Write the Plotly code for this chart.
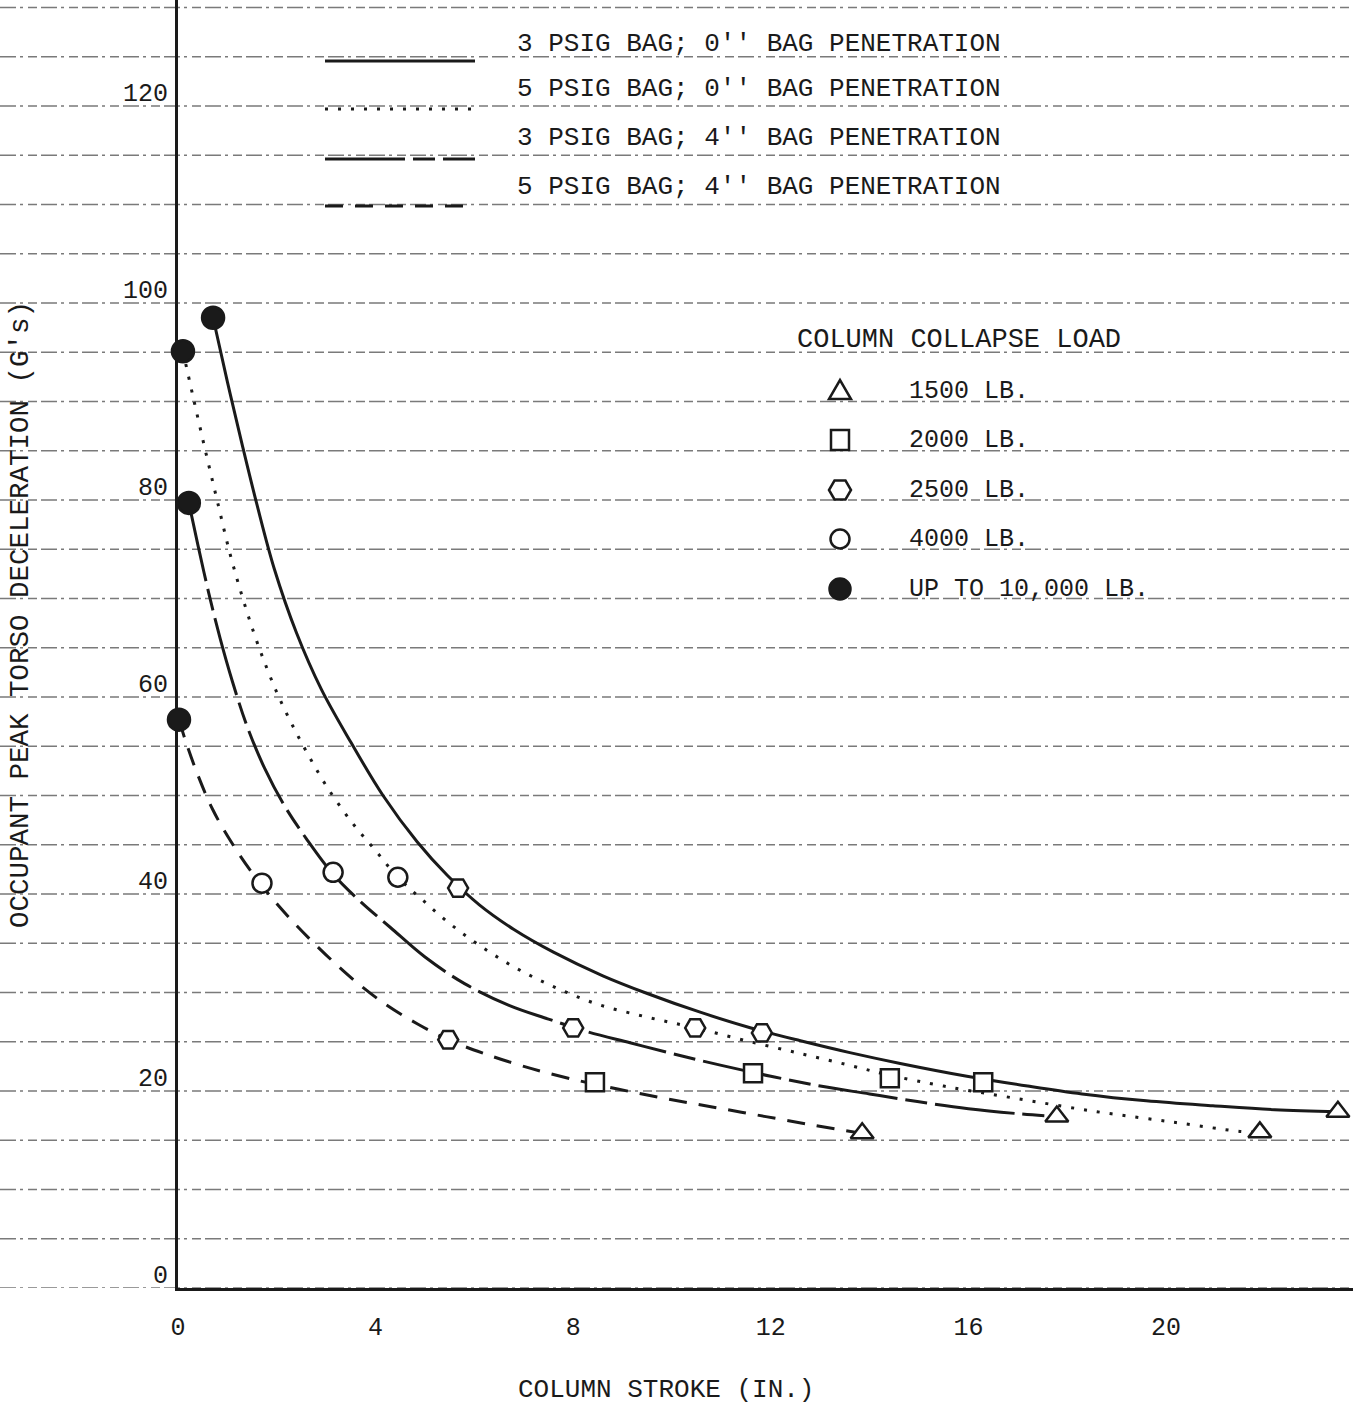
import plotly.graph_objects as go

# ---------------- data ----------------
# Curve: 3 PSIG BAG; 0" BAG PENETRATION (solid)
s30_x = [0.71, 1.00, 1.30, 1.60, 1.95, 2.40, 2.90, 3.50, 4.15, 4.84, 5.45, 6.10, 6.80, 7.60,
         8.60, 9.50, 10.57, 11.60, 12.60, 13.60, 14.62, 15.97, 17.20, 18.30, 19.60, 20.95,
         22.20, 23.48]
s30_y = [98.5, 92.0, 85.6, 79.5, 73.0, 66.5, 60.8, 55.4, 50.0, 45.3, 41.9, 38.9, 36.4, 34.1,
         31.7, 29.9, 28.0, 26.4, 25.1, 23.9, 22.8, 21.5, 20.5, 19.7, 19.0, 18.5,
         18.1, 17.9]
# Curve: 5 PSIG BAG; 0" BAG PENETRATION (dotted)
s50_x = [0.10, 0.30, 0.55, 0.80, 1.05, 1.30, 1.55, 1.80, 2.05, 2.33, 2.65, 3.00, 3.50, 4.00,
         4.45, 4.95, 5.50, 6.10, 6.80, 7.60, 8.50, 9.50, 10.47, 11.50, 12.60, 13.60, 14.41,
         15.50, 16.90, 18.60, 20.20, 21.50, 21.90]
s50_y = [95.1, 90.6, 85.1, 79.8, 74.6, 70.2, 66.3, 62.9, 59.9, 57.0, 54.0, 51.0, 47.4, 44.4,
         41.7, 39.4, 37.0, 34.8, 32.6, 30.6, 28.8, 27.5, 26.4, 25.1, 23.8, 22.6, 21.6,
         20.5, 19.3, 17.9, 16.8, 15.9, 15.8]
# Curve: 3 PSIG BAG; 4" BAG PENETRATION (long dash - short dash)
s34_x = [0.22, 0.40, 0.62, 0.85, 1.10, 1.40, 1.75, 2.15, 2.60, 3.14, 3.70, 4.30, 5.00, 5.80,
         6.70, 7.50, 8.30, 9.15, 10.00, 11.00, 12.00, 13.00, 14.00, 15.00, 16.00, 17.00,
         17.79]
s34_y = [79.7, 75.5, 70.6, 66.0, 61.6, 57.0, 52.8, 49.0, 45.6, 42.0, 39.2, 36.6, 33.6, 30.9,
         28.7, 27.3, 26.0, 24.9, 23.8, 22.6, 21.5, 20.5, 19.7, 18.9, 18.2, 17.7,
         17.4]
# Curve: 5 PSIG BAG; 4" BAG PENETRATION (dashed)
s54_x = [0.02, 0.15, 0.40, 0.70, 1.05, 1.45, 1.90, 2.40, 3.00, 3.60, 4.20, 4.85, 5.47, 6.20,
         7.00, 7.90, 8.90, 9.90, 10.90, 11.90, 12.90, 13.85]
s54_y = [57.7, 55.6, 52.1, 48.6, 45.5, 42.5, 39.6, 36.8, 33.8, 31.1, 28.8, 26.8, 25.2, 23.8,
         22.5, 21.3, 20.2, 19.2, 18.3, 17.4, 16.5, 15.7]

# Column collapse load markers
tri_x = [13.85, 17.79, 21.90, 23.48]     # 1500 LB
tri_y = [15.7, 17.4, 15.8, 17.9]
sq_x = [8.44, 11.64, 14.41, 16.30]       # 2000 LB
sq_y = [20.9, 21.8, 21.3, 20.9]
hex_x = [5.47, 8.00, 10.47, 11.82, 5.67]  # 2500 LB
hex_y = [25.2, 26.4, 26.4, 25.9, 40.6]
circ_x = [1.70, 3.14, 4.45]              # 4000 LB
circ_y = [41.1, 42.2, 41.7]
dot_x = [0.02, 0.22, 0.10, 0.71]         # up to 10,000 LB
dot_y = [57.7, 79.7, 95.1, 98.5]

line_names = ['3 PSIG BAG; 0" BAG PENETRATION', '5 PSIG BAG; 0" BAG PENETRATION',
              '3 PSIG BAG; 4" BAG PENETRATION', '5 PSIG BAG; 4" BAG PENETRATION']
load_names = ['1500 LB.', '2000 LB.', '2500 LB.', '4000 LB.', 'UP TO 10,000 LB.']
x_ticks = [0, 4, 8, 12, 16, 20]
y_ticks = [0, 20, 40, 60, 80, 100, 120]

# ---------------- figure ----------------
W, H = 1353, 1405
L, B = 178, 117
PW, PH = W - L, H - B
FONT = "Liberation Mono"
INK = "#1a1a1a"

def px_x(p):
    return (p - L) / PW

def px_y(p):
    return (PH - p) / PH

dashes = ["solid", "3px,10px", "80px,8px,22px,8px", "18px,12px"]
curves = [(s30_x, s30_y), (s50_x, s50_y), (s34_x, s34_y), (s54_x, s54_y)]

fig = go.Figure()
for (cx, cy), name, d in zip(curves, line_names, dashes):
    fig.add_trace(go.Scatter(x=cx, y=cy, mode="lines", name=name, showlegend=False,
                             line=dict(color=INK, width=3, dash=d, shape="spline", smoothing=1.0),
                             hoverinfo="skip"))

mk_specs = [
    (tri_x, tri_y, "triangle-up", 20, "white"),
    (sq_x, sq_y, "square", 18, "white"),
    (hex_x, hex_y, "hexagon2", 20, "white"),
    (circ_x, circ_y, "circle", 19, "white"),
    (dot_x, dot_y, "circle", 22, INK),
]
for (mx, my, sym, sz, fill), nm in zip(mk_specs, load_names):
    fig.add_trace(go.Scatter(x=mx, y=my, mode="markers", name=nm, showlegend=False,
                             cliponaxis=False,
                             marker=dict(symbol=sym, size=sz, color=fill,
                                         line=dict(color=INK, width=2.5))))

shapes = []
# graph-paper horizontal rules every 5 G's, extending across the whole sheet
for g in range(-10, 135, 5):
    shapes.append(dict(type="line", xref="paper", yref="y", x0=px_x(0), x1=1, y0=g, y1=g,
                       line=dict(color="#7a7a7a", width=1.4, dash="16px,4px,3px,5px,9px,4px"),
                       layer="below"))

# line legend samples
leg_line_y = [61, 109, 159, 206]
for yy, d in zip(leg_line_y, dashes):
    shapes.append(dict(type="line", xref="paper", yref="paper", x0=px_x(325), x1=px_x(475),
                       y0=px_y(yy), y1=px_y(yy), line=dict(color=INK, width=3, dash=d)))

# marker legend symbols (pixel-sized shapes)
mx0 = px_x(840)
leg_mk_y = [391, 440, 490, 539, 589]
sym_paths = [
    "M -11,-8 L 11,-8 L 0,11 Z",
    None,
    "M -11,0 L -5.5,-9.5 L 5.5,-9.5 L 11,0 L 5.5,9.5 L -5.5,9.5 Z",
    None,
    None,
]
for i, yy in enumerate(leg_mk_y):
    base = dict(xref="paper", yref="paper", xsizemode="pixel", ysizemode="pixel",
                xanchor=mx0, yanchor=px_y(yy), line=dict(color=INK, width=2.5))
    if i == 0 or i == 2:
        shapes.append(dict(type="path", path=sym_paths[i], fillcolor="white", **base))
    elif i == 1:
        shapes.append(dict(type="rect", x0=-9, x1=9, y0=-10, y1=10, fillcolor="white", **base))
    elif i == 3:
        shapes.append(dict(type="circle", x0=-9.5, x1=9.5, y0=-9.5, y1=9.5, fillcolor="white", **base))
    else:
        shapes.append(dict(type="circle", x0=-10.5, x1=10.5, y0=-10.5, y1=10.5, fillcolor=INK, **base))

ann = []
leg_text_y = [44, 89, 138, 187]
for yy, nm in zip(leg_text_y, line_names):
    ann.append(dict(xref="paper", yref="paper", x=px_x(515), y=px_y(yy), text=nm.replace('"', "''"),
                    showarrow=False, xanchor="left", yanchor="middle",
                    font=dict(family=FONT, size=26, color=INK)))
ann.append(dict(xref="paper", yref="paper", x=px_x(795), y=px_y(340), text="COLUMN COLLAPSE LOAD",
                showarrow=False, xanchor="left", yanchor="middle",
                font=dict(family=FONT, size=27, color=INK)))
for yy, nm in zip(leg_mk_y, load_names):
    ann.append(dict(xref="paper", yref="paper", x=px_x(907), y=px_y(yy), text=nm,
                    showarrow=False, xanchor="left", yanchor="middle",
                    font=dict(family=FONT, size=25, color=INK)))
# y tick labels (sit just above their rule, as in the reference)
for t in y_ticks:
    ann.append(dict(xref="paper", yref="y", x=0, y=t, text=str(t), showarrow=False,
                    xanchor="right", yanchor="middle", xshift=-8, yshift=12,
                    font=dict(family=FONT, size=25, color=INK)))
# axis titles
ann.append(dict(xref="paper", yref="paper", x=px_x(666), y=px_y(1390), text="COLUMN STROKE (IN.)",
                showarrow=False, xanchor="center", yanchor="middle",
                font=dict(family=FONT, size=26, color=INK)))
ann.append(dict(xref="paper", yref="paper", x=px_x(20), y=px_y(615),
                text="OCCUPANT PEAK TORSO DECELERATION (G's)", textangle=-90,
                showarrow=False, xanchor="center", yanchor="middle",
                font=dict(family=FONT, size=27.5, color=INK)))

fig.update_layout(
    width=W, height=H,
    margin=dict(l=L, r=0, t=0, b=B, pad=0),
    paper_bgcolor="white", plot_bgcolor="white",
    showlegend=False,
    shapes=shapes, annotations=ann,
    xaxis=dict(range=[0, PW / 49.4], showgrid=False, zeroline=False, showline=True,
               linecolor=INK, linewidth=3, tickmode="array", tickvals=x_ticks,
               ticktext=[str(t) for t in x_ticks], ticks="", ticklabelstandoff=14,
               tickfont=dict(family=FONT, size=25, color=INK)),
    yaxis=dict(range=[0, PH / 9.85], showgrid=False, zeroline=False, showline=True,
               linecolor=INK, linewidth=3, showticklabels=False, ticks=""),
)

fig.write_html("out.html")
